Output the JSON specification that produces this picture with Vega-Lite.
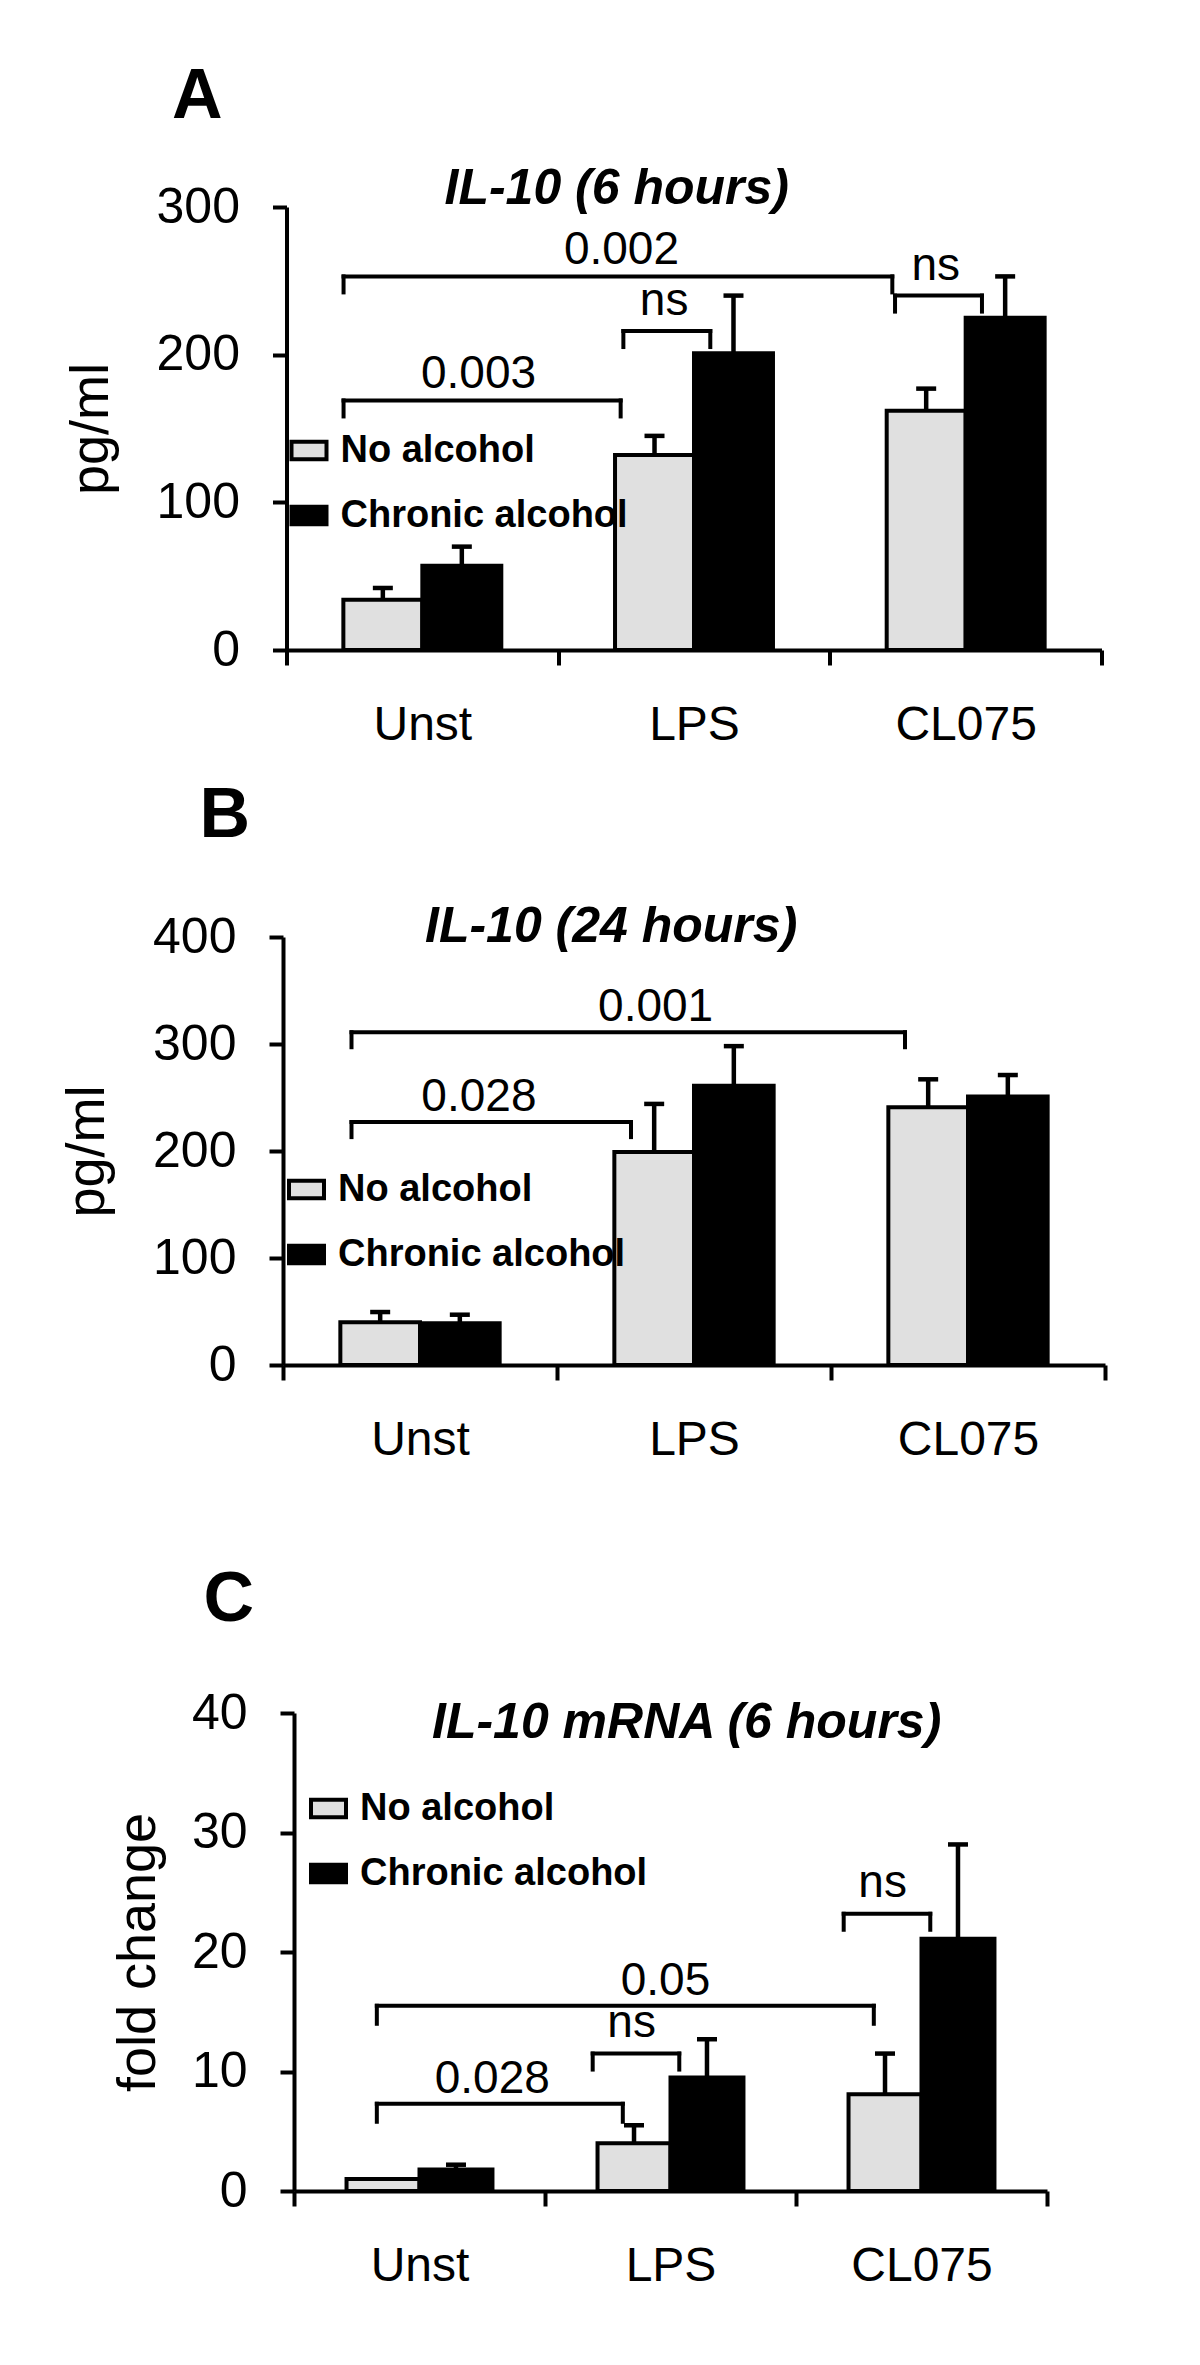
{
  "$schema": "https://vega.github.io/schema/vega-lite/v6.json",
  "background": "white",
  "padding": {"left": 60, "top": 62, "right": 5, "bottom": 5},
  "spacing": 32,
  "center": true,
  "resolve": {"scale": {"x": "independent", "y": "independent", "fill": "independent", "xOffset": "independent"}, "legend": {"fill": "independent"}},
  "datasets": {
    "barsA": [
      {"cat": "Unst", "series": "No alcohol", "value": 34, "hi": 42},
      {"cat": "Unst", "series": "Chronic alcohol", "value": 57, "hi": 70},
      {"cat": "LPS", "series": "No alcohol", "value": 132, "hi": 145},
      {"cat": "LPS", "series": "Chronic alcohol", "value": 201, "hi": 240},
      {"cat": "CL075", "series": "No alcohol", "value": 162, "hi": 177},
      {"cat": "CL075", "series": "Chronic alcohol", "value": 225, "hi": 253}
    ],
    "brA": [
      {"from": "Unst", "to": "LPS", "y": 169, "label": "0.003", "kind": "adjacent"},
      {"from": "Unst", "to": "CL075", "y": 253, "label": "0.002", "kind": "span"},
      {"from": "LPS", "to": "LPS", "y": 216, "label": "ns", "kind": "within"},
      {"from": "CL075", "to": "CL075", "y": 240, "label": "ns", "kind": "within"}
    ],
    "barsB": [
      {"cat": "Unst", "series": "No alcohol", "value": 40, "hi": 49.5},
      {"cat": "Unst", "series": "Chronic alcohol", "value": 39, "hi": 47},
      {"cat": "LPS", "series": "No alcohol", "value": 199, "hi": 244},
      {"cat": "LPS", "series": "Chronic alcohol", "value": 261, "hi": 298},
      {"cat": "CL075", "series": "No alcohol", "value": 241, "hi": 267},
      {"cat": "CL075", "series": "Chronic alcohol", "value": 251, "hi": 271}
    ],
    "brB": [
      {"from": "Unst", "to": "LPS", "y": 227, "label": "0.028", "kind": "adjacent"},
      {"from": "Unst", "to": "CL075", "y": 311, "label": "0.001", "kind": "span"}
    ],
    "barsC": [
      {"cat": "Unst", "series": "No alcohol", "value": 1.0},
      {"cat": "Unst", "series": "Chronic alcohol", "value": 1.8, "hi": 2.2},
      {"cat": "LPS", "series": "No alcohol", "value": 4.0, "hi": 5.5},
      {"cat": "LPS", "series": "Chronic alcohol", "value": 9.5, "hi": 12.7},
      {"cat": "CL075", "series": "No alcohol", "value": 8.1, "hi": 11.5},
      {"cat": "CL075", "series": "Chronic alcohol", "value": 21.1, "hi": 29.0}
    ],
    "brC": [
      {"from": "Unst", "to": "LPS", "y": 7.3, "label": "0.028", "kind": "adjacent"},
      {"from": "Unst", "to": "CL075", "y": 15.5, "label": "0.05", "kind": "span"},
      {"from": "LPS", "to": "LPS", "y": 11.5, "label": "ns", "kind": "within"},
      {"from": "CL075", "to": "CL075", "y": 23.2, "label": "ns", "kind": "within"}
    ]
  },
  "vconcat": [
    {
      "title": {"text": "A", "anchor": "start", "dx": 108, "offset": 31, "fontSize": 70, "fontWeight": "bold", "fontStyle": "normal"},
      "resolve": {"scale": {"fill": "independent", "xOffset": "independent"}, "legend": {"fill": "independent"}},
      "vconcat": [
        {
          "width": 815, "height": 443,
          "title": {"text": "IL-10 (6 hours)", "anchor": "start", "frame": "group", "dx": 158, "offset": -32, "fontSize": 50, "fontWeight": "bold", "fontStyle": "italic"},
          "layer": [
            {"data": {"name": "barsA"}, "mark": {"type": "bar", "stroke": "black", "strokeWidth": 4},
             "encoding": {
               "x": {"field": "cat", "type": "nominal", "sort": null, "scale": {"domain": ["Unst", "LPS", "CL075"], "paddingInner": 0, "paddingOuter": 0}, "axis": {"title": null}},
               "xOffset": {"field": "series", "type": "nominal", "sort": null, "scale": {"domain": ["No alcohol", "Chronic alcohol"], "paddingInner": 0, "paddingOuter": 0.72}},
               "y": {"field": "value", "type": "quantitative", "scale": {"domain": [0, 300], "nice": false}, "axis": {"title": "pg/ml", "values": [0, 100, 200, 300]}},
               "fill": {"field": "series", "type": "nominal", "scale": {"domain": ["No alcohol", "Chronic alcohol"], "range": ["#e0e0e0", "#000000"]}, "legend": {"orient": "none", "legendX": 3, "legendY": 224, "title": null}}
             }},
            {"data": {"name": "barsA"}, "mark": {"type": "rule", "color": "black", "strokeWidth": 4.5},
             "encoding": {"x": {"field": "cat", "type": "nominal"}, "xOffset": {"field": "series", "type": "nominal"}, "y": {"field": "value", "type": "quantitative"}, "y2": {"field": "hi"}}},
            {"data": {"name": "barsA"}, "mark": {"type": "tick", "color": "black", "opacity": 1, "orient": "horizontal", "size": 20, "thickness": 4.5},
             "encoding": {"x": {"field": "cat", "type": "nominal"}, "xOffset": {"field": "series", "type": "nominal"}, "y": {"field": "hi", "type": "quantitative"}}},
            {"data": {"name": "brA"}, "transform": [{"filter": "datum.kind != 'within'"}], "mark": {"type": "rule", "color": "black", "strokeWidth": 4, "strokeCap": "square"},
             "encoding": {"x": {"field": "from", "type": "nominal", "bandPosition": 0.21}, "x2": {"field": "to", "bandPosition": 0.23}, "y": {"field": "y", "type": "quantitative"}}},
            {"data": {"name": "brA"}, "transform": [{"filter": "datum.kind != 'within'"}], "mark": {"type": "rule", "color": "black", "strokeWidth": 4, "strokeCap": "square", "y2Offset": 16},
             "encoding": {"x": {"field": "from", "type": "nominal", "bandPosition": 0.21}, "y": {"field": "y", "type": "quantitative"}, "y2": {"field": "y"}}},
            {"data": {"name": "brA"}, "transform": [{"filter": "datum.kind != 'within'"}], "mark": {"type": "rule", "color": "black", "strokeWidth": 4, "strokeCap": "square", "y2Offset": 16},
             "encoding": {"x": {"field": "to", "type": "nominal", "bandPosition": 0.23}, "y": {"field": "y", "type": "quantitative"}, "y2": {"field": "y"}}},
            {"data": {"name": "brA"}, "transform": [{"filter": "datum.kind == 'within'"}], "mark": {"type": "rule", "color": "black", "strokeWidth": 4, "strokeCap": "square"},
             "encoding": {"x": {"field": "from", "type": "nominal", "bandPosition": 0.24}, "x2": {"field": "to", "bandPosition": 0.56}, "y": {"field": "y", "type": "quantitative"}}},
            {"data": {"name": "brA"}, "transform": [{"filter": "datum.kind == 'within'"}], "mark": {"type": "rule", "color": "black", "strokeWidth": 4, "strokeCap": "square", "y2Offset": 16},
             "encoding": {"x": {"field": "from", "type": "nominal", "bandPosition": 0.24}, "y": {"field": "y", "type": "quantitative"}, "y2": {"field": "y"}}},
            {"data": {"name": "brA"}, "transform": [{"filter": "datum.kind == 'within'"}], "mark": {"type": "rule", "color": "black", "strokeWidth": 4, "strokeCap": "square", "y2Offset": 16},
             "encoding": {"x": {"field": "to", "type": "nominal", "bandPosition": 0.56}, "y": {"field": "y", "type": "quantitative"}, "y2": {"field": "y"}}},
            {"data": {"name": "brA"}, "transform": [{"filter": "datum.kind == 'adjacent'"}], "mark": {"type": "text", "fontSize": 46, "baseline": "alphabetic", "dy": -12, "color": "black"},
             "encoding": {"x": {"field": "from", "type": "nominal", "bandPosition": 0.707}, "y": {"field": "y", "type": "quantitative"}, "text": {"field": "label"}}},
            {"data": {"name": "brA"}, "transform": [{"filter": "datum.kind == 'span'"}], "mark": {"type": "text", "fontSize": 46, "baseline": "alphabetic", "dy": -12, "color": "black"},
             "encoding": {"x": {"field": "from", "type": "nominal", "bandPosition": 1.233}, "y": {"field": "y", "type": "quantitative"}, "text": {"field": "label"}}},
            {"data": {"name": "brA"}, "transform": [{"filter": "datum.kind == 'within'"}], "mark": {"type": "text", "fontSize": 46, "baseline": "alphabetic", "dy": -16, "color": "black"},
             "encoding": {"x": {"field": "from", "type": "nominal", "bandPosition": 0.39}, "y": {"field": "y", "type": "quantitative"}, "text": {"field": "label"}}}
          ]
        }
      ]
    },
    {
      "spacing": 101,
      "center": true,
      "resolve": {"scale": {"x": "independent", "y": "independent", "fill": "independent", "xOffset": "independent"}, "legend": {"fill": "independent"}},
      "vconcat": [
        {
          "title": {"text": "B", "anchor": "start", "dx": 139, "offset": 50, "fontSize": 70, "fontWeight": "bold", "fontStyle": "normal"},
          "resolve": {"scale": {"fill": "independent", "xOffset": "independent"}, "legend": {"fill": "independent"}},
          "vconcat": [
            {
              "width": 822, "height": 428,
              "title": {"text": "IL-10 (24 hours)", "anchor": "start", "frame": "group", "dx": 142, "offset": -40, "fontSize": 50, "fontWeight": "bold", "fontStyle": "italic"},
              "layer": [
                {"data": {"name": "barsB"}, "mark": {"type": "bar", "stroke": "black", "strokeWidth": 4},
                 "encoding": {
                   "x": {"field": "cat", "type": "nominal", "sort": null, "scale": {"domain": ["Unst", "LPS", "CL075"], "paddingInner": 0, "paddingOuter": 0}, "axis": {"title": null}},
                   "xOffset": {"field": "series", "type": "nominal", "sort": null, "scale": {"domain": ["No alcohol", "Chronic alcohol"], "paddingInner": 0, "paddingOuter": 0.72}},
                   "y": {"field": "value", "type": "quantitative", "scale": {"domain": [0, 400], "nice": false}, "axis": {"title": "pg/ml", "values": [0, 100, 200, 300, 400]}},
                   "fill": {"field": "series", "type": "nominal", "scale": {"domain": ["No alcohol", "Chronic alcohol"], "range": ["#e0e0e0", "#000000"]}, "legend": {"orient": "none", "legendX": 4, "legendY": 233, "title": null}}
                 }},
                {"data": {"name": "barsB"}, "mark": {"type": "rule", "color": "black", "strokeWidth": 4.5},
                 "encoding": {"x": {"field": "cat", "type": "nominal"}, "xOffset": {"field": "series", "type": "nominal"}, "y": {"field": "value", "type": "quantitative"}, "y2": {"field": "hi"}}},
                {"data": {"name": "barsB"}, "mark": {"type": "tick", "color": "black", "opacity": 1, "orient": "horizontal", "size": 20, "thickness": 4.5},
                 "encoding": {"x": {"field": "cat", "type": "nominal"}, "xOffset": {"field": "series", "type": "nominal"}, "y": {"field": "hi", "type": "quantitative"}}},
                {"data": {"name": "brB"}, "mark": {"type": "rule", "color": "black", "strokeWidth": 4, "strokeCap": "square"},
                 "encoding": {"x": {"field": "from", "type": "nominal", "bandPosition": 0.25}, "x2": {"field": "to", "bandPosition": 0.27}, "y": {"field": "y", "type": "quantitative"}}},
                {"data": {"name": "brB"}, "mark": {"type": "rule", "color": "black", "strokeWidth": 4, "strokeCap": "square", "y2Offset": 15},
                 "encoding": {"x": {"field": "from", "type": "nominal", "bandPosition": 0.25}, "y": {"field": "y", "type": "quantitative"}, "y2": {"field": "y"}}},
                {"data": {"name": "brB"}, "mark": {"type": "rule", "color": "black", "strokeWidth": 4, "strokeCap": "square", "y2Offset": 15},
                 "encoding": {"x": {"field": "to", "type": "nominal", "bandPosition": 0.27}, "y": {"field": "y", "type": "quantitative"}, "y2": {"field": "y"}}},
                {"data": {"name": "brB"}, "transform": [{"filter": "datum.kind == 'adjacent'"}], "mark": {"type": "text", "fontSize": 46, "baseline": "alphabetic", "dy": -11, "color": "black"},
                 "encoding": {"x": {"field": "from", "type": "nominal", "bandPosition": 0.715}, "y": {"field": "y", "type": "quantitative"}, "text": {"field": "label"}}},
                {"data": {"name": "brB"}, "transform": [{"filter": "datum.kind == 'span'"}], "mark": {"type": "text", "fontSize": 46, "baseline": "alphabetic", "dy": -11, "color": "black"},
                 "encoding": {"x": {"field": "from", "type": "nominal", "bandPosition": 1.36}, "y": {"field": "y", "type": "quantitative"}, "text": {"field": "label"}}}
              ]
            }
          ]
        },
        {
          "title": {"text": "C", "anchor": "start", "dx": 92, "offset": 52, "fontSize": 70, "fontWeight": "bold", "fontStyle": "normal"},
          "resolve": {"scale": {"fill": "independent", "xOffset": "independent"}, "legend": {"fill": "independent"}},
          "vconcat": [
            {
              "width": 802, "height": 478,
              "title": {"text": "IL-10 mRNA (6 hours)", "anchor": "start", "frame": "group", "dx": 138, "offset": -60, "fontSize": 50, "fontWeight": "bold", "fontStyle": "italic"},
              "layer": [
                {"data": {"name": "barsC"}, "mark": {"type": "bar", "stroke": "black", "strokeWidth": 4},
                 "encoding": {
                   "x": {"field": "cat", "type": "nominal", "sort": null, "scale": {"domain": ["Unst", "LPS", "CL075"], "range": [0, 753], "paddingInner": 0, "paddingOuter": 0}, "axis": {"title": null}},
                   "xOffset": {"field": "series", "type": "nominal", "sort": null, "scale": {"domain": ["No alcohol", "Chronic alcohol"], "paddingInner": 0, "paddingOuter": 0.72}},
                   "y": {"field": "value", "type": "quantitative", "scale": {"domain": [0, 40], "nice": false}, "axis": {"title": "fold change", "values": [0, 10, 20, 30, 40], "titlePadding": 26}},
                   "fill": {"field": "series", "type": "nominal", "scale": {"domain": ["No alcohol", "Chronic alcohol"], "range": ["#e0e0e0", "#000000"]}, "legend": {"orient": "none", "legendX": 15, "legendY": 76, "title": null}}
                 }},
                {"data": {"name": "barsC"}, "mark": {"type": "rule", "color": "black", "strokeWidth": 4.5},
                 "encoding": {"x": {"field": "cat", "type": "nominal"}, "xOffset": {"field": "series", "type": "nominal"}, "y": {"field": "value", "type": "quantitative"}, "y2": {"field": "hi"}}},
                {"data": {"name": "barsC"}, "mark": {"type": "tick", "color": "black", "opacity": 1, "orient": "horizontal", "size": 20, "thickness": 4.5},
                 "encoding": {"x": {"field": "cat", "type": "nominal"}, "xOffset": {"field": "series", "type": "nominal"}, "y": {"field": "hi", "type": "quantitative"}}},
                {"data": {"name": "brC"}, "transform": [{"filter": "datum.kind != 'within'"}], "mark": {"type": "rule", "color": "black", "strokeWidth": 4, "strokeCap": "square"},
                 "encoding": {"x": {"field": "from", "type": "nominal", "bandPosition": 0.33}, "x2": {"field": "to", "bandPosition": 0.31}, "y": {"field": "y", "type": "quantitative"}}},
                {"data": {"name": "brC"}, "transform": [{"filter": "datum.kind != 'within'"}], "mark": {"type": "rule", "color": "black", "strokeWidth": 4, "strokeCap": "square", "y2Offset": 18},
                 "encoding": {"x": {"field": "from", "type": "nominal", "bandPosition": 0.33}, "y": {"field": "y", "type": "quantitative"}, "y2": {"field": "y"}}},
                {"data": {"name": "brC"}, "transform": [{"filter": "datum.kind != 'within'"}], "mark": {"type": "rule", "color": "black", "strokeWidth": 4, "strokeCap": "square", "y2Offset": 18},
                 "encoding": {"x": {"field": "to", "type": "nominal", "bandPosition": 0.31}, "y": {"field": "y", "type": "quantitative"}, "y2": {"field": "y"}}},
                {"data": {"name": "brC"}, "transform": [{"filter": "datum.kind == 'within'"}], "mark": {"type": "rule", "color": "black", "strokeWidth": 4, "strokeCap": "square"},
                 "encoding": {"x": {"field": "from", "type": "nominal", "bandPosition": 0.19}, "x2": {"field": "to", "bandPosition": 0.535}, "y": {"field": "y", "type": "quantitative"}}},
                {"data": {"name": "brC"}, "transform": [{"filter": "datum.kind == 'within'"}], "mark": {"type": "rule", "color": "black", "strokeWidth": 4, "strokeCap": "square", "y2Offset": 16},
                 "encoding": {"x": {"field": "from", "type": "nominal", "bandPosition": 0.19}, "y": {"field": "y", "type": "quantitative"}, "y2": {"field": "y"}}},
                {"data": {"name": "brC"}, "transform": [{"filter": "datum.kind == 'within'"}], "mark": {"type": "rule", "color": "black", "strokeWidth": 4, "strokeCap": "square", "y2Offset": 16},
                 "encoding": {"x": {"field": "to", "type": "nominal", "bandPosition": 0.535}, "y": {"field": "y", "type": "quantitative"}, "y2": {"field": "y"}}},
                {"data": {"name": "brC"}, "transform": [{"filter": "datum.kind == 'adjacent'"}], "mark": {"type": "text", "fontSize": 46, "baseline": "alphabetic", "dy": -11, "color": "black"},
                 "encoding": {"x": {"field": "from", "type": "nominal", "bandPosition": 0.79}, "y": {"field": "y", "type": "quantitative"}, "text": {"field": "label"}}},
                {"data": {"name": "brC"}, "transform": [{"filter": "datum.kind == 'span'"}], "mark": {"type": "text", "fontSize": 46, "baseline": "alphabetic", "dy": -11, "color": "black"},
                 "encoding": {"x": {"field": "from", "type": "nominal", "bandPosition": 1.48}, "y": {"field": "y", "type": "quantitative"}, "text": {"field": "label"}}},
                {"data": {"name": "brC"}, "transform": [{"filter": "datum.kind == 'within'"}], "mark": {"type": "text", "fontSize": 46, "baseline": "alphabetic", "dy": -17, "color": "black"},
                 "encoding": {"x": {"field": "from", "type": "nominal", "bandPosition": 0.345}, "y": {"field": "y", "type": "quantitative"}, "text": {"field": "label"}}}
              ]
            }
          ]
        }
      ]
    }
  ],
  "config": {
    "font": "Liberation Sans",
    "view": {"stroke": null},
    "title": {"font": "Liberation Sans", "color": "black"},
    "axis": {"grid": false, "domainColor": "black", "domainWidth": 4, "tickColor": "black", "tickWidth": 4, "labelColor": "black", "labelFont": "Liberation Sans", "labelFontSize": 48, "titleColor": "black", "titleFont": "Liberation Sans", "titleFontSize": 54, "titleFontWeight": "normal"},
    "axisX": {"tickSize": 15, "labelPadding": 36, "tickBand": "extent", "labelAngle": 0},
    "axisY": {"tickSize": 14, "labelPadding": 33, "titlePadding": 38, "labelFontSize": 50},
    "legend": {"symbolType": "M-1,-0.5H1V0.5H-1Z", "symbolSize": 1225, "symbolStrokeColor": "black", "symbolStrokeWidth": 4, "labelFont": "Liberation Sans", "labelFontSize": 38, "labelFontWeight": "bold", "labelColor": "black", "labelOffset": 12, "labelLimit": 0, "rowPadding": 26, "padding": 0}
  }
}
